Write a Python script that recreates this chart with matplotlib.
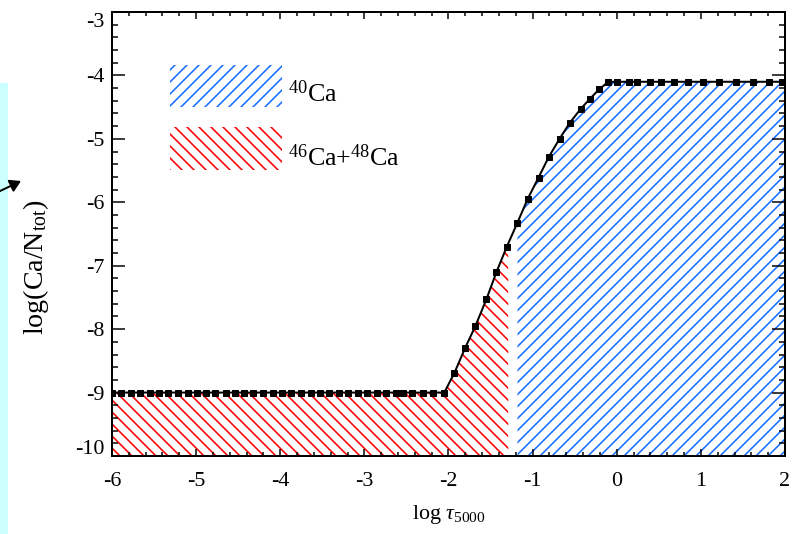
import matplotlib

matplotlib.use("Agg")
import matplotlib.pyplot as plt
import matplotlib.transforms as mtransforms
import numpy as np
from matplotlib.patches import FancyArrowPatch, Rectangle

# Model depth grid (log tau_5000) and stratified Ca abundance log(Ca/N_tot)
LOG_TAU = [
    -6.00, -5.89, -5.78, -5.67, -5.55, -5.44, -5.33, -5.22, -5.10, -4.99,
    -4.88, -4.77, -4.65, -4.54, -4.43, -4.32, -4.20, -4.09, -3.98, -3.87,
    -3.75, -3.64, -3.53, -3.42, -3.30, -3.19, -3.08, -2.97, -2.85, -2.74,
    -2.63, -2.54, -2.43, -2.30, -2.18, -2.05,
    -1.93, -1.80, -1.68, -1.55, -1.43, -1.31, -1.18, -1.06, -0.93, -0.81,
    -0.68, -0.56, -0.43, -0.32, -0.21, -0.10,
    0.00, 0.14, 0.24, 0.39, 0.53, 0.68, 0.85, 1.03, 1.22, 1.42, 1.62,
    1.81, 1.96,
]
LOG_CA = [-9.00] * 36 + [
    -8.69, -8.29, -7.95, -7.53, -7.10, -6.71, -6.32, -5.95, -5.61, -5.29,
    -5.00, -4.75, -4.53, -4.37, -4.22, -4.10,
] + [-4.10] * 13

# depth ranges where each isotope group dominates
HEAVY_MAX_TAU = -1.29
LIGHT_MIN_TAU = -1.18

XLIM = (-6, 2)
YLIM = (-10, -3)

BLUE = "#1a6eff"
RED = "#ff0000"
FONT = "Liberation Serif"
HATCH_RED = "\\\\"
HATCH_BLUE = "//"


def setup_style():
    plt.rcParams["font.family"] = FONT
    plt.rcParams["mathtext.fontset"] = "custom"
    plt.rcParams["mathtext.rm"] = FONT
    plt.rcParams["mathtext.it"] = FONT + ":italic"
    plt.rcParams["axes.unicode_minus"] = False
    plt.rcParams["hatch.linewidth"] = 1.6


def draw_fills(ax, x, y):
    heavy = x <= HEAVY_MAX_TAU
    xr = np.append(x[heavy], HEAVY_MAX_TAU)
    yr = np.append(y[heavy], np.interp(HEAVY_MAX_TAU, x, y))
    ax.fill_between(xr, yr, YLIM[0], facecolor="none", edgecolor=RED,
                    hatch=HATCH_RED, linewidth=0, zorder=1)

    light = x >= LIGHT_MIN_TAU
    xb = np.append(x[light], XLIM[1])
    yb = np.append(y[light], y[-1])
    ax.fill_between(xb, yb, YLIM[0], facecolor="none", edgecolor=BLUE,
                    hatch=HATCH_BLUE, linewidth=0, zorder=1)


def draw_key(ax):
    ax.add_patch(Rectangle((-5.31, -4.50), 1.33, 0.66, facecolor="none",
                           edgecolor=BLUE, hatch=HATCH_BLUE, linewidth=0))
    ax.add_patch(Rectangle((-5.31, -5.49), 1.33, 0.68, facecolor="none",
                           edgecolor=RED, hatch=HATCH_RED, linewidth=0))
    ax.text(-3.91, -4.28, r"$^{40}$Ca", fontsize=26, va="center")
    ax.text(-3.91, -5.29, r"$^{46}$Ca+$^{48}$Ca", fontsize=26, va="center")


def main():
    setup_style()
    fig = plt.figure(figsize=(800 / 72, 534 / 72), dpi=72)
    ax = fig.add_axes([112 / 800, 78 / 534, 673 / 800, 444 / 534])

    x = np.array(LOG_TAU)
    y = np.array(LOG_CA)

    draw_fills(ax, x, y)
    ax.plot(x, y, color="black", lw=2, marker="s", ms=6, zorder=3)
    draw_key(ax)

    ax.set_xlim(*XLIM)
    ax.set_ylim(*YLIM)
    ax.set_xticks(np.arange(-6, 3, 1))
    ax.set_yticks(np.arange(-10, -2, 1))
    ax.set_xticks(np.arange(-6, 2.01, 0.2), minor=True)
    ax.set_yticks(np.arange(-10, -2.99, 0.2), minor=True)

    ax.tick_params(which="both", direction="in", top=True, right=True,
                   width=1.5, labelsize=22)
    ax.tick_params(axis="x", which="major", length=7, pad=16)
    ax.tick_params(axis="x", which="minor", length=4)
    ax.tick_params(axis="y", which="major", length=13, pad=8)
    ax.tick_params(axis="y", which="minor", length=6)
    for spine in ax.spines.values():
        spine.set_linewidth(2)

    # keep the end labels of the y axis inside the frame
    yticks = ax.yaxis.get_major_ticks()
    for tick, dy in ((yticks[0], 9), (yticks[-1], -8)):
        shift = mtransforms.ScaledTranslation(0, dy / 72, fig.dpi_scale_trans)
        tick.label1.set_transform(tick.label1.get_transform() + shift)

    ax.set_xlabel(r"log $\mathit{\tau}_{5000}$", fontsize=22)
    ax.set_ylabel(r"log(Ca/N$_{\rm tot}$)", fontsize=28)
    ax.xaxis.set_label_coords(0.5, -0.105)
    ax.yaxis.set_label_coords(-0.09, 0.425)

    # strip and pointer at the left margin
    fig.add_artist(Rectangle((0, 0), 8 / 800, 451 / 534,
                             transform=fig.transFigure, color="#ccffff",
                             linewidth=0))
    fig.add_artist(FancyArrowPatch(
        (-2 / 800, 1 - 192 / 534), (21 / 800, 1 - 181 / 534),
        transform=fig.transFigure,
        arrowstyle="-|>,head_length=0.5,head_width=0.3",
        mutation_scale=18, color="black", lw=2, shrinkA=0, shrinkB=0))

    fig.savefig("out.png", dpi=72)
    plt.close(fig)


if __name__ == "__main__":
    main()
